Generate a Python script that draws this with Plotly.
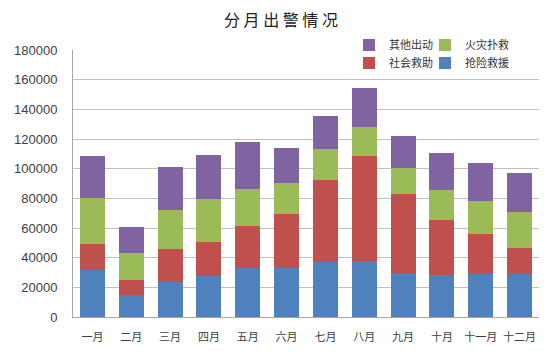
import plotly.graph_objects as go

months = ["一月", "二月", "三月", "四月", "五月", "六月", "七月", "八月", "九月", "十月", "十一月", "十二月"]
rescue = [32000, 14800, 23300, 27400, 33200, 33200, 37300, 37900, 29900, 28500, 29200, 29000]   # 抢险救援
social = [17000, 9900, 22500, 23100, 27900, 36200, 55200, 70800, 52700, 37100, 26900, 17500]    # 社会救助
fire = [31000, 18400, 26300, 29000, 25200, 20900, 20500, 19400, 17600, 20200, 22300, 24300]     # 火灾扑救
other = [28700, 17300, 28700, 29700, 31400, 23300, 22700, 26600, 22000, 25100, 25100, 26300]    # 其他出动
y_ticks = [0, 20000, 40000, 60000, 80000, 100000, 120000, 140000, 160000, 180000]

FONT = "Liberation Sans, Noto Sans CJK SC, sans-serif"
CJK = "Noto Sans CJK SC, sans-serif"

fig = go.Figure()
fig.add_bar(x=months, y=rescue, name="抢险救援", marker_color="#4F81BD", legend="legend4")
fig.add_bar(x=months, y=social, name="社会救助", marker_color="#C0504D", legend="legend3")
fig.add_bar(x=months, y=fire, name="火灾扑救", marker_color="#9BBB59", legend="legend2")
fig.add_bar(x=months, y=other, name="其他出动", marker_color="#8064A2", legend="legend")
for t in fig.data:
    t.marker.line.width = 0
    t.showlegend = True

legend_common = dict(xanchor="left", yanchor="middle",
                     font=dict(family=CJK, size=11, color="#333333"),
                     itemwidth=30, visible=True)

X1, X2 = 0.5923, 0.7554
Y1, Y2 = 1.0187, 0.9513

fig.update_layout(
    showlegend=True,
    width=546, height=347,
    margin=dict(l=65, r=15, t=42, b=38, autoexpand=False),
    paper_bgcolor="white", plot_bgcolor="white",
    barmode="stack", bargap=0.36,
    title=dict(text="分 月 出 警 情 况", x=0.5, xanchor="center", y=0.965, yanchor="middle",
               font=dict(family=CJK, size=16, color="#222222")),
    font=dict(family=FONT, size=12, color="#404040"),
    legend=dict(x=X1, y=Y1, bgcolor="white", orientation="h", entrywidth=128, **legend_common),
    legend2=dict(x=X2, y=Y1, bgcolor="rgba(0,0,0,0)", orientation="v", **legend_common),
    legend3=dict(x=X1, y=Y2, bgcolor="rgba(0,0,0,0)", orientation="v", **legend_common),
    legend4=dict(x=X2, y=Y2, bgcolor="rgba(0,0,0,0)", orientation="v", **legend_common),
    xaxis=dict(showgrid=False, showline=True, linecolor="#A6A6A6", linewidth=1,
               ticks="", tickangle=0, ticklabelstandoff=10,
               tickfont=dict(family=CJK, size=11, color="#404040")),
    yaxis=dict(range=[0, 180000], tickvals=y_ticks, tickformat="d", showgrid=True,
               gridcolor="#BFBFBF", gridwidth=1, showline=True, linecolor="#A6A6A6",
               zeroline=False, ticks="", ticklabelstandoff=12,
               tickfont=dict(size=13, color="#404040")),
)

fig.write_html("out.html")
